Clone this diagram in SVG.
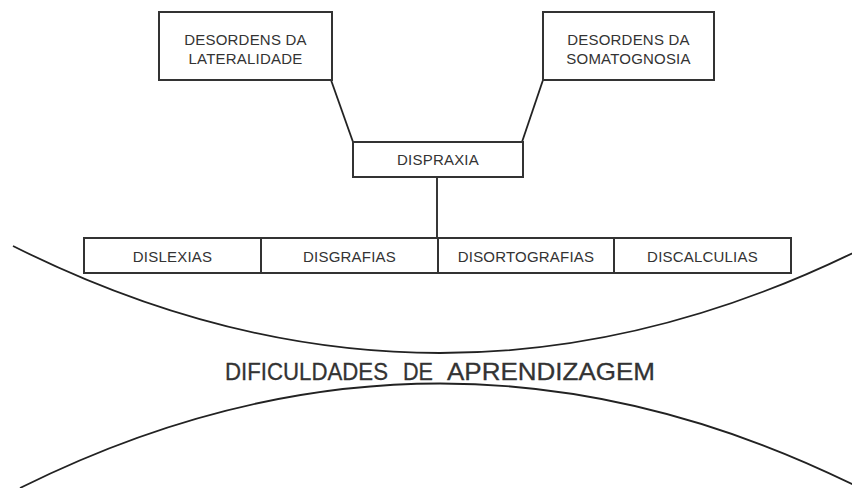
<svg xmlns="http://www.w3.org/2000/svg" width="852" height="488" viewBox="0 0 852 488">
<style>
.box{fill:#fff;stroke:#333;stroke-width:2}
.t{font-family:"Liberation Sans",Arial,sans-serif;font-size:15px;fill:#333;text-anchor:middle;letter-spacing:0.2px}
.ti{font-family:"Liberation Sans",Arial,sans-serif;font-size:24px;fill:#333;stroke:#333;stroke-width:0.3}
.ln{stroke:#222;stroke-width:1.8;fill:none}
</style>
<rect width="852" height="488" fill="#fff"/>
<g id="connectors">
<line class="ln" x1="331" y1="80" x2="353" y2="142"/>
<line class="ln" x1="543" y1="80" x2="522" y2="142"/>
<line class="ln" x1="437" y1="177" x2="437" y2="238"/>
<path class="ln" d="M13,246 Q440,460 867,246"/>
<path class="ln" d="M20,488 Q440,279 860,488"/>
</g>
<g id="lateralidade">
<rect class="box" x="159" y="12" width="173" height="68"/>
<text class="t" x="245.5" y="45">DESORDENS DA</text>
<text class="t" x="245.5" y="64">LATERALIDADE</text>
</g>
<g id="somatognosia">
<rect class="box" x="543" y="12" width="171" height="68"/>
<text class="t" x="628.5" y="45">DESORDENS DA</text>
<text class="t" x="628.5" y="64">SOMATOGNOSIA</text>
</g>
<g id="dispraxia">
<rect class="box" x="353" y="142" width="170" height="35"/>
<text class="t" x="438" y="165">DISPRAXIA</text>
</g>
<g id="dislexias">
<rect class="box" x="84" y="238" width="177" height="35"/>
<text class="t" x="172.5" y="262">DISLEXIAS</text>
</g>
<g id="disgrafias">
<rect class="box" x="261" y="238" width="177" height="35"/>
<text class="t" x="349.5" y="262">DISGRAFIAS</text>
</g>
<g id="disortografias">
<rect class="box" x="438" y="238" width="176" height="35"/>
<text class="t" x="526" y="262">DISORTOGRAFIAS</text>
</g>
<g id="discalculias">
<rect class="box" x="614" y="238" width="177" height="35"/>
<text class="t" x="702.5" y="262">DISCALCULIAS</text>
</g>
<g id="titulo">
<text class="ti" x="225" y="380" textLength="163" lengthAdjust="spacingAndGlyphs">DIFICULDADES</text>
<text class="ti" x="403" y="380" textLength="30" lengthAdjust="spacingAndGlyphs">DE</text>
<text class="ti" x="447" y="380" textLength="208" lengthAdjust="spacingAndGlyphs">APRENDIZAGEM</text>
</g>
</svg>
